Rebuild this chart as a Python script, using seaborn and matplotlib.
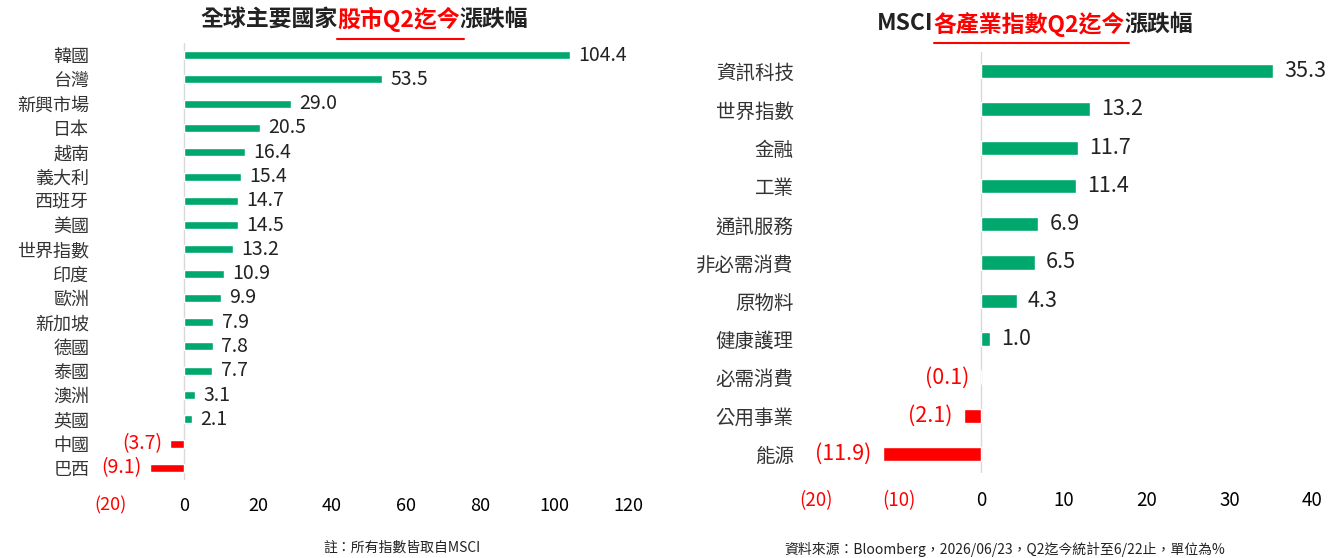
import matplotlib
matplotlib.use("Agg")
import matplotlib.pyplot as plt
import seaborn as sns
import pandas as pd

# data
country_names = ["韓國", "台灣", "新興市場", "日本", "越南", "義大利", "西班牙", "美國",
                 "世界指數", "印度", "歐洲", "新加坡", "德國", "泰國", "澳洲", "英國",
                 "中國", "巴西"]
country_returns = [104.4, 53.5, 29.0, 20.5, 16.4, 15.4, 14.7, 14.5,
                   13.2, 10.9, 9.9, 7.9, 7.8, 7.7, 3.1, 2.1,
                   -3.7, -9.1]

sector_names = ["資訊科技", "世界指數", "金融", "工業", "通訊服務", "非必需消費",
                "原物料", "健康護理", "必需消費", "公用事業", "能源"]
sector_returns = [35.3, 13.2, 11.7, 11.4, 6.9, 6.5, 4.3, 1.0, -0.1, -2.1, -11.9]

left_ticks = [-20, 0, 20, 40, 60, 80, 100, 120]
right_ticks = [-20, -10, 0, 10, 20, 30, 40]

GREEN = "#00A86E"
RED = "#FF0000"
DARK = "#222222"

sns.set_style("white")
plt.rcParams["font.family"] = ["Noto Sans CJK TC", "DejaVu Sans"]

W, H = 1335, 558
fig = plt.figure(figsize=(W / 100, H / 100), dpi=100)


def px_axes(x0, y0, x1, y1):
    return fig.add_axes([x0 / W, 1 - y1 / H, (x1 - x0) / W, (y1 - y0) / H])


def fmt(v):
    return f"({abs(v):.1f})" if v < 0 else f"{v:.1f}"


def draw_panel(ax, names, vals, ticks, bar_w, lab_size, val_size, tick_size, lab_pad, off):
    df = pd.DataFrame({"name": names, "val": vals})
    df["sign"] = ["neg" if v < 0 else "pos" for v in vals]
    sns.barplot(data=df, x="val", y="name", hue="sign", orient="h",
                palette={"pos": GREEN, "neg": RED}, dodge=False,
                width=bar_w, legend=False, ax=ax, saturation=1)
    ax.set_xlim(ticks[0], ticks[-1])
    ax.set_ylim(len(names) - 0.5, -0.5)
    for s in ax.spines.values():
        s.set_visible(False)
    ax.axvline(0, color="#d9d9d9", lw=1, zorder=0)
    ax.set_xticks(ticks)
    ax.set_xticklabels([f"({abs(t)})" if t < 0 else str(t) for t in ticks])
    for t, lab in zip(ticks, ax.get_xticklabels()):
        lab.set_color(RED if t < 0 else "black")
    ax.tick_params(axis="x", length=0, pad=12, labelsize=tick_size)
    ax.tick_params(axis="y", length=0, pad=lab_pad, labelsize=lab_size, labelcolor="#333333")
    ax.set_xlabel("")
    ax.set_ylabel("")
    for i, v in enumerate(vals):
        if v >= 0:
            ax.annotate(fmt(v), (v, i), xytext=(off, 0), textcoords="offset points",
                        ha="left", va="center", fontsize=val_size, color=DARK)
        else:
            ax.annotate(fmt(v), (v, i), xytext=(-off, 0), textcoords="offset points",
                        ha="right", va="center", fontsize=val_size, color=RED)


ax1 = px_axes(110, 43, 628, 480)
draw_panel(ax1, country_names, country_returns, left_ticks, 0.33, 13, 14, 13, 15, 6)

ax2 = px_axes(816, 52, 1312, 473)
draw_panel(ax2, sector_names, sector_returns, right_ticks, 0.37, 14, 15.5, 13.5, 16, 8)


def title(x, y, parts, size=16.5):
    first = fig.text(x / W, 1 - y / H, parts[0][0], color=parts[0][1],
                     fontsize=size, fontweight="bold", ha="left", va="center")
    pieces = [first]
    prev = first
    for txt, col in parts[1:]:
        t = ax1.annotate(txt, xy=(1, 0.5), xycoords=prev, ha="left", va="center",
                         fontsize=size, fontweight="bold", color=col,
                         annotation_clip=False)
        pieces.append(t)
        prev = t
    return pieces


t_left = title(200, 19, [("全球主要國家", DARK), ("股市Q2迄今", RED), ("漲跌幅", DARK)])
t_right = title(877, 24, [("MSCI", DARK), ("各產業指數Q2迄今", RED), ("漲跌幅", DARK)])

fig.text(402 / W, 1 - 548 / H, "註：所有指數皆取自MSCI", fontsize=10,
         color=DARK, ha="center", va="center")
fig.text(1005 / W, 1 - 549 / H, "資料來源：Bloomberg，2026/06/23，Q2迄今統計至6/22止，單位為%",
         fontsize=10, color=DARK, ha="center", va="center")

# red underline below the red part of each title
fig.canvas.draw()
renderer = fig.canvas.get_renderer()
inv = fig.transFigure.inverted()
for pieces, uy in [(t_left, 39), (t_right, 43)]:
    bb = pieces[1].get_window_extent(renderer)
    (x0, _), (x1, _) = inv.transform([(bb.x0, bb.y0), (bb.x1 + 4, bb.y0)])
    fig.add_artist(plt.Line2D([x0, x1], [1 - uy / H, 1 - uy / H], color=RED,
                              lw=1.5, transform=fig.transFigure))

fig.savefig("out.png", dpi=100)
